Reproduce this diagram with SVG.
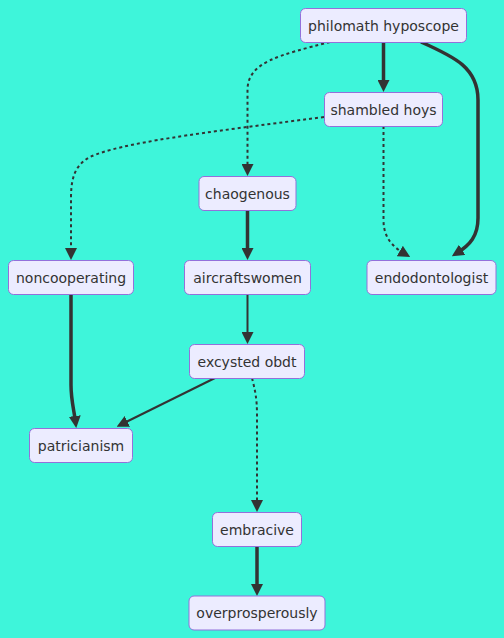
<svg xmlns="http://www.w3.org/2000/svg" width="504" height="638" viewBox="0 0 504 638">
  <style>
    .node rect { fill: #ECECFF; stroke: #9370DB; stroke-width: 1; }
    .node text { font-family: "DejaVu Sans", "Liberation Sans", sans-serif; font-size: 14px; fill: #333333; text-anchor: middle; }
    .edge { fill: none; stroke: #333333; stroke-linecap: butt; }
    .normal { stroke-width: 2; }
    .thick { stroke-width: 3.5; }
    .dotted { stroke-width: 2; stroke-dasharray: 3 3; }
  </style>
  <defs>
    <marker id="arrow" viewBox="0 0 10 10" refX="5" refY="5" markerWidth="12" markerHeight="12" markerUnits="userSpaceOnUse" orient="auto">
      <path d="M0,0 L10,5 L0,10 z" fill="#333333"/>
    </marker>
  </defs>
  <rect width="504" height="638" fill="#3ef5da"/>

  <g id="edges">
    <path class="edge thick" d="M383.5,42 L383.5,86" marker-end="url(#arrow)"/>
    <path class="edge thick" d="M421,42 C455,57 478,68 478,100 L478,218 C478,236 470,245 457,253" marker-end="url(#arrow)"/>
    <path class="edge dotted" d="M330,42 C280,55 247.5,62 247.5,90 L247.5,170" marker-end="url(#arrow)"/>
    <path class="edge dotted" d="M324,117 C200,133 120,143 90,157 C75,165 71,178 71,198 L71,254" marker-end="url(#arrow)"/>
    <path class="edge dotted" d="M383.5,126 L383.5,220 C383.5,238 393,247 405,254" marker-end="url(#arrow)"/>
    <path class="edge thick" d="M247.5,210 L247.5,254" marker-end="url(#arrow)"/>
    <path class="edge thick" d="M71,294 L71,385 C71,400 74,410 75.5,422" marker-end="url(#arrow)"/>
    <path class="edge normal" d="M247.5,294 L247.5,338" marker-end="url(#arrow)"/>
    <path class="edge normal" d="M215,378 L122,424" marker-end="url(#arrow)"/>
    <path class="edge dotted" d="M252,378 C255,390 257,398 257,415 L257,506" marker-end="url(#arrow)"/>
    <path class="edge thick" d="M257,546 L257,590" marker-end="url(#arrow)"/>
  </g>

  <g id="philomath-hyposcope" class="node">
    <rect x="300.5" y="8.5" width="166" height="34" rx="5"/>
    <text x="383.5" y="30.5">philomath hyposcope</text>
  </g>
  <g id="shambled-hoys" class="node">
    <rect x="324.5" y="92.5" width="118" height="34" rx="5"/>
    <text x="383.5" y="114.5">shambled hoys</text>
  </g>
  <g id="chaogenous" class="node">
    <rect x="199" y="176.5" width="97" height="34" rx="5"/>
    <text x="247.5" y="198.5">chaogenous</text>
  </g>
  <g id="noncooperating" class="node">
    <rect x="8.5" y="260.5" width="125" height="34" rx="5"/>
    <text x="71" y="282.5">noncooperating</text>
  </g>
  <g id="aircraftswomen" class="node">
    <rect x="184.5" y="260.5" width="126" height="34" rx="5"/>
    <text x="247.5" y="282.5">aircraftswomen</text>
  </g>
  <g id="endodontologist" class="node">
    <rect x="367" y="260.5" width="129" height="34" rx="5"/>
    <text x="431.5" y="282.5">endodontologist</text>
  </g>
  <g id="excysted-obdt" class="node">
    <rect x="189.5" y="344.5" width="115" height="34" rx="5"/>
    <text x="247" y="366.5">excysted obdt</text>
  </g>
  <g id="patricianism" class="node">
    <rect x="29.5" y="428.5" width="103" height="34" rx="5"/>
    <text x="81" y="450.5">patricianism</text>
  </g>
  <g id="embracive" class="node">
    <rect x="212.5" y="512.5" width="89" height="34" rx="5"/>
    <text x="257" y="534.5">embracive</text>
  </g>
  <g id="overprosperously" class="node">
    <rect x="189" y="596" width="136" height="34" rx="5"/>
    <text x="257" y="618">overprosperously</text>
  </g>
</svg>
